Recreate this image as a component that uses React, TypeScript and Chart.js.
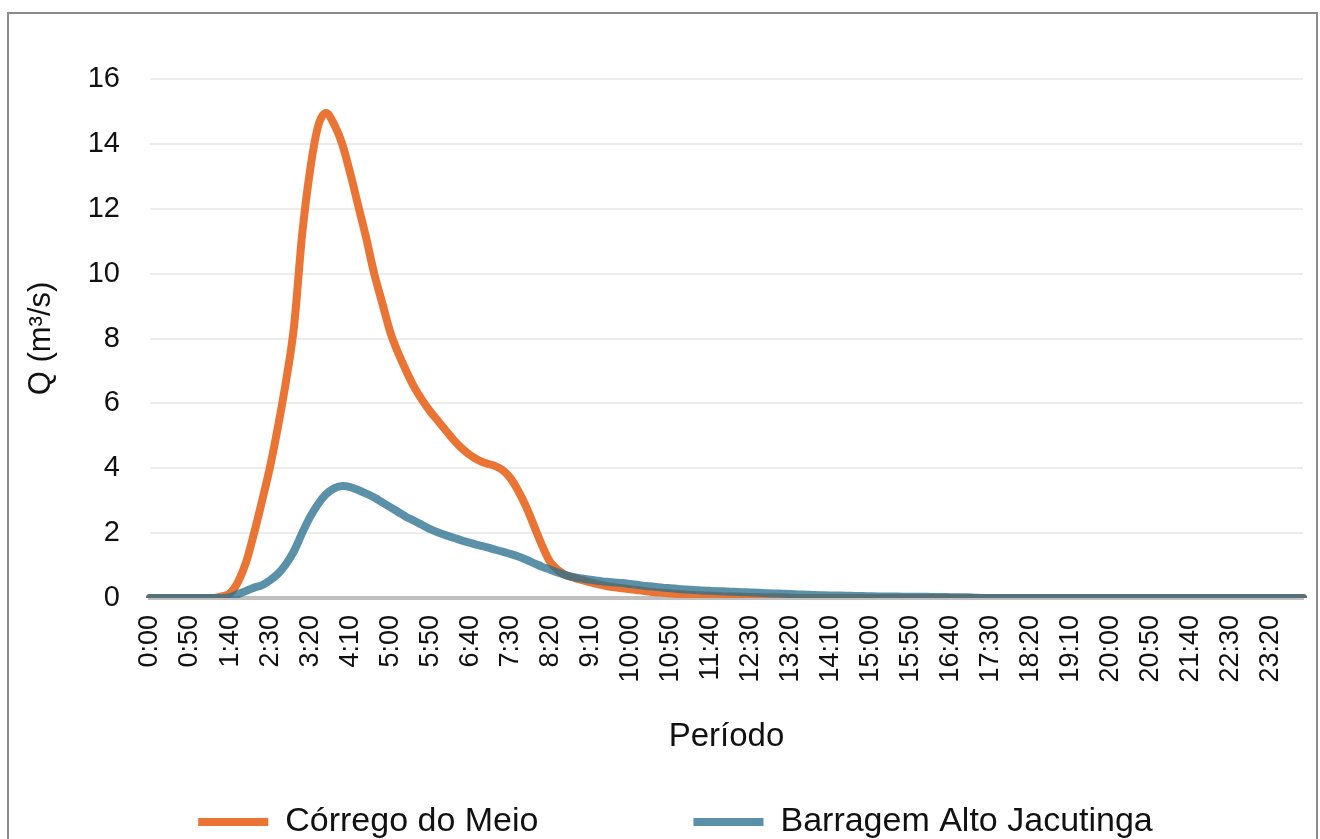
import React, { useEffect, useRef } from "react";
import { Chart, registerables } from "chart.js";

Chart.register(...registerables);

// Time categories every 10 minutes, 0:00 .. 24:00
const periodos: string[] = [];
for (let m = 0; m <= 24 * 60; m += 10) {
  periodos.push(`${Math.floor(m / 60)}:${String(m % 60).padStart(2, "0")}`);
}

// Córrego do Meio (m³/s)
const corregoDoMeio: number[] = [
  0, 0, 0, 0, 0, 0, 0, 0, 0, 0.05,
  0.15, 0.5, 1.1, 2.0, 3.0, 4.05, 5.3, 6.7, 8.4, 11.2,
  13.2, 14.55, 14.95, 14.6, 14.0, 13.1, 12.1, 11.1, 10.0, 9.1,
  8.2, 7.55, 7.0, 6.5, 6.1, 5.75, 5.45, 5.15, 4.85, 4.6,
  4.4, 4.25, 4.15, 4.08, 3.95, 3.7, 3.3, 2.8, 2.2, 1.6,
  1.1, 0.85, 0.7, 0.62, 0.55, 0.48, 0.42, 0.37, 0.33, 0.3,
  0.27, 0.24, 0.21, 0.18, 0.16, 0.14, 0.12, 0.1, 0.09, 0.08,
  0.07, 0.06, 0.05, 0.05, 0.04, 0.03, 0.03, 0.02, 0.02, 0.02,
  0.01, 0, 0, 0, 0, 0, 0, 0, 0, 0,
  0, 0, 0, 0, 0, 0, 0, 0, 0, 0,
  0, 0, 0, 0, 0, 0, 0, 0, 0, 0,
  0, 0, 0, 0, 0, 0, 0, 0, 0, 0,
  0, 0, 0, 0, 0, 0, 0, 0, 0, 0,
  0, 0, 0, 0, 0, 0, 0, 0, 0, 0,
  0, 0, 0, 0, 0,
];

// Barragem Alto Jacutinga (m³/s)
const barragemAltoJacutinga: number[] = [
  0, 0, 0, 0, 0, 0, 0, 0, 0, 0,
  0.03, 0.12, 0.22, 0.32, 0.4, 0.55, 0.75, 1.05, 1.45, 2.0,
  2.5, 2.9, 3.2, 3.38, 3.45, 3.42, 3.33, 3.22, 3.1, 2.95,
  2.8, 2.65, 2.5, 2.38, 2.25, 2.12, 2.02, 1.93, 1.85, 1.77,
  1.7, 1.63, 1.57, 1.5, 1.43, 1.36, 1.28, 1.18, 1.07, 0.96,
  0.87, 0.78, 0.7, 0.64, 0.6, 0.56, 0.53, 0.5, 0.48, 0.46,
  0.43, 0.4, 0.37, 0.35, 0.32, 0.3, 0.28, 0.26, 0.25, 0.23,
  0.22, 0.21, 0.2, 0.19, 0.18, 0.17, 0.16, 0.15, 0.14, 0.13,
  0.12, 0.11, 0.1, 0.09, 0.085, 0.08, 0.075, 0.07, 0.065, 0.06,
  0.055, 0.05, 0.05, 0.045, 0.04, 0.04, 0.035, 0.035, 0.03, 0.03,
  0.025, 0.02, 0.02, 0.01, 0, 0, 0, 0, 0, 0,
  0, 0, 0, 0, 0, 0, 0, 0, 0, 0,
  0, 0, 0, 0, 0, 0, 0, 0, 0, 0,
  0, 0, 0, 0, 0, 0, 0, 0, 0, 0,
  0, 0, 0, 0, 0,
];

const yMin = 0;
const yMax = 16;
const yStep = 2;
const labelEvery = 5;

const FONT = "'Liberation Sans', Arial, Helvetica, sans-serif";
const TEXT = "#111111";

export default function App() {
  const canvasRef = useRef<HTMLCanvasElement | null>(null);

  useEffect(() => {
    if (!canvasRef.current) return;
    const chart = new Chart(canvasRef.current, {
      type: "line",
      data: {
        labels: periodos,
        datasets: [
          {
            label: "Córrego do Meio",
            data: corregoDoMeio,
            borderColor: "#EA7434",
            backgroundColor: "#EA7434",
            borderWidth: 8,
            pointRadius: 0,
            tension: 0.4,
            cubicInterpolationMode: "monotone",
            borderCapStyle: "round",
            borderJoinStyle: "round",
            fill: false,
            order: 1,
          },
          {
            label: "Barragem Alto Jacutinga",
            data: barragemAltoJacutinga,
            borderColor: "rgba(38,110,140,0.76)",
            backgroundColor: "rgba(38,110,140,0.76)",
            borderWidth: 8,
            pointRadius: 0,
            tension: 0.4,
            cubicInterpolationMode: "monotone",
            borderCapStyle: "round",
            borderJoinStyle: "round",
            fill: false,
            order: 0,
          },
        ],
      },
      options: {
        responsive: false,
        animation: false,
        events: [],
        layout: { padding: { left: 26, right: 0, top: 65, bottom: 25 } },
        plugins: {
          tooltip: { enabled: false },
          legend: {
            position: "bottom",
            labels: {
              usePointStyle: true,
              pointStyle: "line",
              pointStyleWidth: 70,
              padding: 155,
              color: TEXT,
              font: { family: FONT, size: 34 },
              sort: (a: any, b: any) => a.datasetIndex - b.datasetIndex,
            },
          },
        },
        scales: {
          x: {
            grid: { display: false, drawTicks: false },
            border: { display: true, color: "#bfbfbf", width: 4 },
            ticks: {
              autoSkip: false,
              minRotation: 90,
              maxRotation: 90,
              padding: 17,
              color: TEXT,
              font: { family: FONT, size: 27 },
              callback: (_v: any, i: number) => (i % labelEvery === 0 ? periodos[i] : null),
            },
            title: {
              display: true,
              text: "Período",
              color: TEXT,
              font: { family: FONT, size: 33 },
              padding: { top: 0, bottom: -107 },
            },
            afterFit: (s: any) => {
              s.height = 52;
              s.paddingLeft = 0;
              s.paddingRight = 0;
              // let rotated tick labels extend below the (short) axis box
              s._computeLabelArea = () => undefined;
            },
          },
          y: {
            min: yMin,
            max: yMax,
            grid: { color: "#ececec", lineWidth: 2, drawTicks: false },
            border: { display: false },
            ticks: {
              stepSize: yStep,
              padding: 30,
              color: TEXT,
              font: { family: FONT, size: 29 },
            },
            title: {
              display: true,
              text: "Q (m³/s)",
              color: TEXT,
              font: { family: FONT, size: 31 },
              padding: { top: -12, bottom: 0 },
            },
            afterFit: (s: any) => {
              s.width = 115;
            },
          },
          yRight: {
            position: "right",
            display: true,
            grid: { display: false, drawTicks: false },
            border: { display: false },
            ticks: { display: false },
            afterFit: (s: any) => {
              s.width = 13;
            },
          },
        },
      } as any,
    });
    return () => chart.destroy();
  }, []);

  return (
    <div
      style={{
        position: "fixed",
        left: 7,
        top: 12,
        width: 1311,
        height: 870,
        border: "2px solid #8b8b8b",
        boxSizing: "border-box",
        background: "#ffffff",
        overflow: "hidden",
      }}
    >
      <canvas ref={canvasRef} width={1307} height={860} style={{ display: "block" }} />
    </div>
  );
}
